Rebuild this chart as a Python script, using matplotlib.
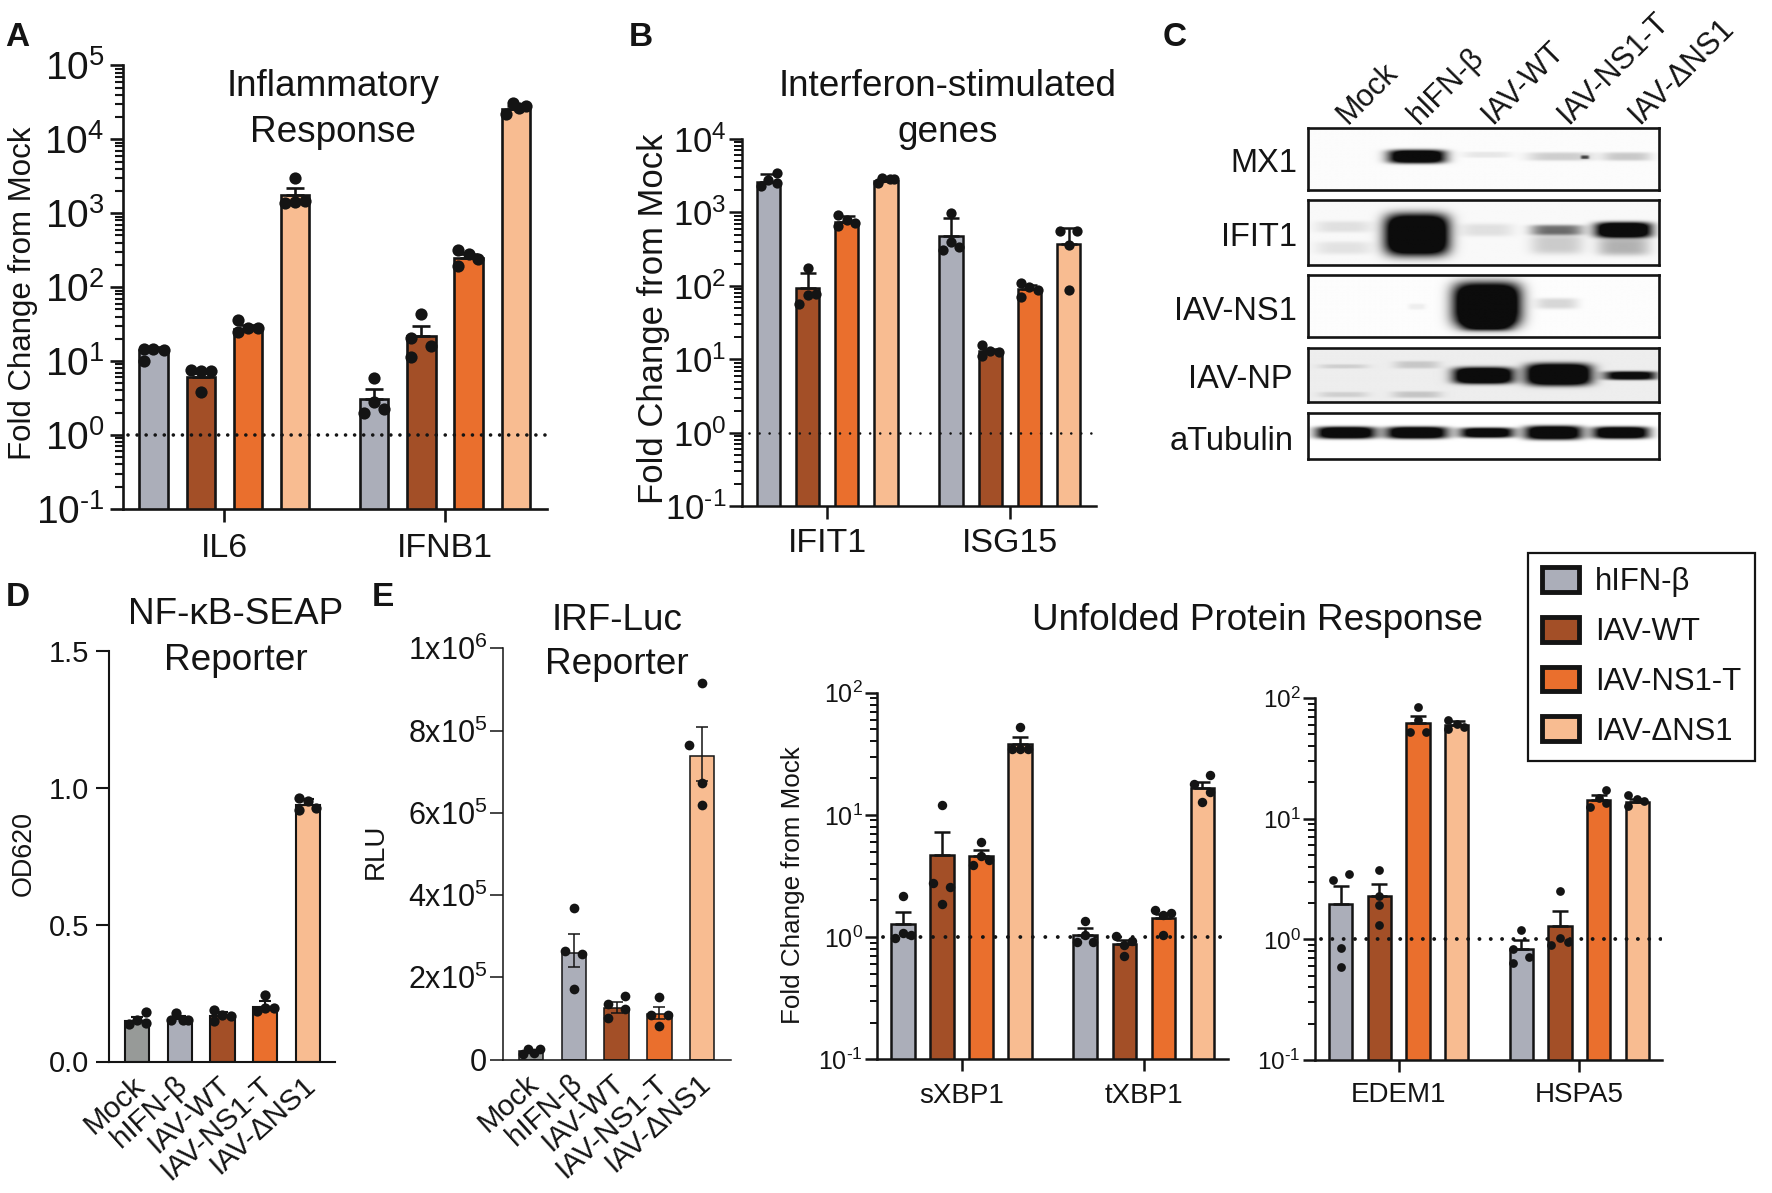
import matplotlib
matplotlib.use("Agg")
import matplotlib.pyplot as plt
import numpy as np
from matplotlib.patches import Patch
from matplotlib.ticker import LogLocator, NullFormatter
from matplotlib.transforms import ScaledTranslation

plt.rcParams["font.family"] = ["Liberation Sans", "DejaVu Sans"]
plt.rcParams["mathtext.fontset"] = "custom"
plt.rcParams["mathtext.rm"] = "Liberation Sans"
plt.rcParams["mathtext.default"] = "regular"

W, H = 1772, 1193
INK = "#141414"

GRAY = "#abaeb9"
BROWN = "#a34f27"
ORANGE = "#ea6f2d"
PEACH = "#f8bc91"
MOCK = "#979a98"
FOUR = [GRAY, BROWN, ORANGE, PEACH]
FIVE = [MOCK, GRAY, BROWN, ORANGE, PEACH]

legend_names = ["hIFN-β", "IAV-WT", "IAV-NS1-T", "IAV-ΔNS1"]
lane_names = ["Mock", "hIFN-β", "IAV-WT", "IAV-NS1-T", "IAV-ΔNS1"]

# A
a_groups = ["IL6", "IFNB1"]
a_means = [13.9, 6.1, 27.3, 1760, 3.07, 21.8, 248, 25900]
a_tops = [15.5, 7.0, 31, 2210, 4.2, 30, 280, 28500]
a_points = [
    [14.6, 14.6, 14.2, 10.1], [7.6, 7.3, 7.3, 3.76], [36, 25, 28, 28], [3000, 1360, 1440, 1470],
    [5.9, 2.83, 1.97, 2.26], [43, 20.6, 15.9, 11.3], [315, 279, 243, 194], [31300, 22300, 26400, 28000],
]
a_offsets = [
    [-.21, 0, .23, -.21], [-.21, 0, .22, 0], [-.21, -.21, 0, .22], [0, -.21, 0, .21],
    [0, 0, -.22, .22], [0, -.22, .21, -.22], [-.22, 0, .2, -.22], [-.07, -.21, .07, .22],
]

# B
b_groups = ["IFIT1", "ISG15"]
b_means = [2600, 93, 747, 2700, 484, 13.1, 91, 377]
b_tops = [3280, 152, 900, 2800, 837, 14, 103, 615]
b_points = [
    [2280, 2770, 3470, 2530], [176, 75, 77, 56], [917, 652, 791, 722], [2530, 2930, 2830, 2860],
    [993, 399, 311, 337], [15.6, 11, 13.1, 12.8], [110, 71, 96, 88], [550, 550, 365, 89],
]
b_offsets = [
    [-.2, 0, .21, .21], [0, 0, .21, -.21], [-.21, -.21, 0, .2], [-.21, -.09, .1, .21],
    [0, 0, -.21, .21], [-.21, -.21, 0, .21], [-.21, -.21, 0, .21], [-.21, .21, 0, 0],
]

# D
d_means = [0.148, 0.155, 0.165, 0.2, 0.94]
d_tops = [0.163, 0.165, 0.18, 0.22, 0.96]
d_points = [
    [.137, .151, .18, .14], [.151, .177, .153, .153], [.189, .148, .17, .167],
    [.243, .185, .195, .195], [.962, .919, .951, .929],
]
d_offsets = [
    [-.2, 0, .2, .2], [-.2, -.08, .08, .2], [-.2, -.2, 0, .2], [0, -.2, 0, .2], [-.2, -.2, 0, .2],
]

# E
e_means = [20000, 260000, 126000, 110000, 739000]
e_tops = [24000, 306000, 140000, 127500, 808000]
e_bottoms = [16000, 224000, 112000, 98500, 678000]
e_points = [
    [13500, 26000, 26000, 15500], [369000, 265000, 256000, 172000], [135000, 154000, 122000, 100000],
    [151000, 108000, 108000, 81000], [915000, 764000, 672000, 620000],
]
e_offsets = [
    [-.2, -.07, .2, .07], [0, -.2, .2, 0], [-.2, .2, .2, -.2], [0, -.2, .2, 0], [0, -.3, 0, 0],
]

# Unfolded protein response, left
x_groups = ["sXBP1", "tXBP1"]
x_means = [1.29, 4.69, 4.6, 37.9, 1.05, 0.871, 1.42, 16.5]
x_tops = [1.59, 7.27, 5.15, 43.5, 1.18, 0.95, 1.55, 18.7]
x_points = [
    [2.15, .975, 1.09, 1.04], [12, 2.75, 2.55, 1.86], [5.95, 3.88, 4.6, 4.27], [52.6, 34.3, 34.3, 34.5],
    [1.36, .904, 1.05, .904], [1.03, .86, .927, .703], [1.66, 1.53, 1.58, 1.05], [21.1, 17.9, 15.3, 12.8],
]
x_offsets = [
    [0, -.2, 0, .2], [0, -.22, .2, 0], [0, -.21, 0, .2], [0, -.21, 0, .21],
    [0, -.21, 0, .21], [-.2, 0, .2, 0], [-.2, 0, .21, 0], [.21, -.2, .21, 0],
]

# Unfolded protein response, right
u_groups = ["EDEM1", "HSPA5"]
u_means = [1.95, 2.27, 62.5, 60, 0.824, 1.3, 14.2, 13.8]
u_tops = [2.75, 2.85, 71.6, 64, 0.986, 1.73, 15.6, 14.6]
u_points = [
    [3.46, 3.11, .84, .587], [3.77, 2.28, 1.92, 1.31], [84, 52, 65.8, 52], [65.8, 55, 61.2, 57.4],
    [1.19, .83, .713, .641], [2.51, 1.02, .904, .957], [17.3, 14.9, 12.6, 13.4], [15.7, 14.6, 12.7, 14.1],
]
u_offsets = [
    [.22, -.21, 0, 0], [0, 0, 0, 0], [0, -.22, 0, .2], [-.22, -.22, 0, .2],
    [0, -.21, .21, -.21], [0, 0, -.22, .21], [.2, 0, -.21, .2], [-.23, 0, -.23, .18],
]

# C: bands as (lane x, y, half width, half height, strength), fractions of the box
blot_names = ["MX1", "IFIT1", "IAV-NS1", "IAV-NP", "aTubulin"]
blot_backgrounds = [0.015, 0.025, 0.01, 0.07, 0.0]
mx1_bands = [(.31, .46, .082, .11, 1.4), (.51, .43, .07, .05, .08), (.72, .46, .095, .07, .18),
             (.79, .47, .012, .03, .6), (.91, .46, .07, .07, .2)]
ifit1_bands = [(.31, .535, .09, .32, 1.7), (.10, .41, .08, .09, .1), (.10, .74, .08, .1, .09),
               (.51, .46, .075, .1, .1), (.71, .46, .075, .08, .55), (.71, .68, .075, .16, .18),
               (.90, .46, .08, .12, 1.5), (.90, .72, .075, .14, .28)]
ns1_bands = [(.51, .48, .095, .36, 1.7), (.51, .81, .07, .1, .6), (.71, .46, .06, .09, .15),
             (.31, .51, .025, .05, .06)]
np_bands = [(.50, .52, .085, .15, 1.5), (.715, .50, .092, .2, 1.6), (.92, .52, .075, .08, 1.1),
            (.10, .35, .07, .04, .12), (.31, .32, .065, .07, .15), (.10, .87, .07, .05, .12),
            (.31, .87, .07, .06, .16)]
tubulin_bands = [(.107, .44, .085, .13, 1.4), (.31, .44, .088, .13, 1.4), (.51, .44, .077, .11, 1.3),
                 (.70, .44, .082, .15, 1.4), (.893, .44, .08, .13, 1.4)]
blot_bands = [mx1_bands, ifit1_bands, ns1_bands, np_bands, tubulin_bands]


def px_axes(fig, x0, y0, x1, y1):
    """Axes from pixel box, y measured from the top of the picture."""
    return fig.add_axes([x0 / W, 1 - y1 / H, (x1 - x0) / W, (y1 - y0) / H])


def px_text(fig, x, y, s, **kw):
    kw.setdefault("ha", "center")
    kw.setdefault("va", "center")
    return fig.text(x / W, 1 - y / H, s, **kw)


def draw_bars(ax, xs, colors, means, tops, points, offsets, width, lw, ms, cap, bottoms=None):
    ax.bar(xs, means, width=width, color=colors, edgecolor=INK, linewidth=lw, zorder=2)
    means = np.array(means)
    upper = np.array(tops) - means
    lower = means - np.array(bottoms) if bottoms is not None else np.zeros(len(means))
    ax.errorbar(xs, means, yerr=[lower, upper], fmt="none", ecolor=INK, elinewidth=lw,
                capsize=cap, capthick=lw, zorder=3)
    for x, vals, offs in zip(xs, points, offsets):
        ax.plot(x + np.array(offs), vals, "o", color=INK, ms=ms, mew=0, zorder=5, clip_on=False)


def style_spines(ax, lw):
    ax.spines[["top", "right"]].set_visible(False)
    ax.spines[["left", "bottom"]].set_linewidth(lw)
    ax.spines[["left", "bottom"]].set_color(INK)


def log_panel(ax, groups, means, tops, points, offsets, exps, xlim, lw, ms, cap, tick_fs, group_fs,
              major, minor, line_lw, line_start, line_gap, label_y, pad):
    xs = [0, 1, 2, 3, 4.67, 5.67, 6.67, 7.67]
    colors = FOUR + FOUR
    ax.set_yscale("log")
    draw_bars(ax, xs, colors, means, tops, points, offsets, 0.6, lw, ms, cap)
    ax.plot([line_start, xlim[1]], [1, 1], color=INK, lw=line_lw, dash_capstyle="round",
            linestyle=(0, (0.01, line_gap)), zorder=4)
    ax.set_xlim(*xlim)
    ax.set_ylim(10.0 ** exps[0], 10.0 ** exps[-1])
    ax.set_yticks([10.0 ** e for e in exps])
    ax.set_yticklabels([rf"$10^{{{e}}}$" if e >= 0 else rf"$10^{{\text{{-}}{-e}}}$" for e in exps],
                       fontsize=tick_fs, color=INK)
    ax.yaxis.set_minor_locator(LogLocator(base=10, subs=range(2, 10), numticks=20))
    ax.yaxis.set_minor_formatter(NullFormatter())
    ax.tick_params(axis="y", which="major", length=major, width=lw, color=INK, pad=pad)
    ax.tick_params(axis="y", which="minor", length=minor, width=lw * 0.8, color=INK)
    ax.set_xticks([np.mean(xs[:4]), np.mean(xs[4:])])
    ax.set_xticklabels([])
    ax.tick_params(axis="x", length=major, width=lw, color=INK)
    style_spines(ax, lw)
    trans = ax.get_xaxis_transform()
    for gx, name in zip(ax.get_xticks(), groups):
        ax.text(gx, label_y, name, transform=trans, ha="center", va="center",
                fontsize=group_fs, color=INK)


def linear_panel(fig, ax, means, tops, points, offsets, ylim, ticks, ticklabels, xlim, lw, ms, cap, tick_fs,
                 pad, bottoms=None):
    xs = np.arange(len(means))
    draw_bars(ax, xs, FIVE, means, tops, points, offsets, 0.57, lw, ms, cap, bottoms)
    ax.set_xlim(*xlim)
    ax.set_ylim(*ylim)
    ax.set_yticks(ticks)
    ax.set_yticklabels(ticklabels, fontsize=tick_fs, color=INK)
    ax.tick_params(axis="y", length=9.5, width=lw, color=INK, pad=pad)
    ax.set_xticks(xs)
    ax.set_xticklabels(lane_names, rotation=42, ha="right", va="top", rotation_mode="anchor",
                       fontsize=21.3, color=INK)
    ax.tick_params(axis="x", length=0, pad=7)
    shift = ScaledTranslation(-4 / 72, 0, fig.dpi_scale_trans)
    for lab in ax.get_xticklabels():
        lab.set_transform(lab.get_transform() + shift)
    style_spines(ax, lw)


def draw_blot(ax, bands, background):
    xx, yy = np.meshgrid(np.linspace(0, 1, 350), np.linspace(0, 1, 70))
    dark = np.full(xx.shape, background)
    for bx, by, hw, hh, strength in bands:
        dark += strength * np.exp(-((xx - bx) / hw) ** 4 - ((yy - by) / hh) ** 4)
    ax.imshow(1 - np.clip(dark, 0, 0.95), cmap="gray", vmin=0, vmax=1, aspect="auto",
              extent=[0, 1, 1, 0], interpolation="bilinear")
    ax.set_xticks([])
    ax.set_yticks([])
    for sp in ax.spines.values():
        sp.set_linewidth(1.9)
        sp.set_color(INK)


fig = plt.figure(figsize=(W / 100, H / 100), dpi=100, facecolor="white")

# A
ax = px_axes(fig, 122.5, 65.4, 547, 508.9)
log_panel(ax, a_groups, a_means, a_tops, a_points, a_offsets, [-1, 0, 1, 2, 3, 4, 5],
          (-0.656, 8.33), 1.9, 8.8, 6.8, 28, 24.5, 9.6, 5.5, 2.6, -0.53, 2.5, -0.09, 3.5)
# B
ax = px_axes(fig, 742.4, 138.9, 1095.6, 506.4)
log_panel(ax, b_groups, b_means, b_tops, b_points, b_offsets, [-1, 0, 1, 2, 3, 4],
          (-0.665, 8.36), 1.8, 7.4, 6.0, 25, 24.5, 9.6, 5.5, 1.9, -0.5, 3.8, -0.102, 2)
# sXBP1 / tXBP1
ax = px_axes(fig, 877.3, 692.7, 1228, 1059.3)
log_panel(ax, x_groups, x_means, x_tops, x_points, x_offsets, [-1, 0, 1, 2],
          (-0.658, 8.33), 1.8, 6.8, 6.0, 18, 20, 8.5, 5, 2.8, -0.5, 3.2, -0.1, 2)
# EDEM1 / HSPA5
ax = px_axes(fig, 1315.3, 698, 1662, 1060)
log_panel(ax, u_groups, u_means, u_tops, u_points, u_offsets, [-1, 0, 1, 2],
          (-0.658, 8.31), 1.8, 6.3, 5.6, 17.5, 20, 8.5, 5, 2.8, -0.5, 2.9, -0.096, 2)

# D
ax = px_axes(fig, 109, 651.4, 335.4, 1061.5)
linear_panel(fig, ax, d_means, d_tops, d_points, d_offsets, (0, 1.5), [0, 0.5, 1.0, 1.5],
             ["0.0", "0.5", "1.0", "1.5"], (-0.66, 4.65), 1.5, 7.4, 4.5, 21, 5)
# E
ax = px_axes(fig, 503, 648.3, 730.5, 1059.5)
linear_panel(fig, ax, e_means, e_tops, e_points, e_offsets, (0, 1e6),
             [0, 2e5, 4e5, 6e5, 8e5, 1e6],
             ["0", r"$2x10^{5}$", r"$4x10^{5}$", r"$6x10^{5}$", r"$8x10^{5}$", r"$1x10^{6}$"],
             (-0.657, 4.66), 1.1, 7.0, 4.5, 22, 2, bottoms=e_bottoms)

# C
blot_boxes = [(128.3, 190), (200.3, 265), (275.3, 336.7), (347.7, 402), (412.7, 459.3)]
blot_label_y = [164, 238, 311, 379, 442]
blot_label_x = [1297, 1297, 1297, 1293, 1294]
for (y0, y1), bands, bg, name, ly, lx in zip(blot_boxes, blot_bands, blot_backgrounds, blot_names,
                                             blot_label_y, blot_label_x):
    ax = px_axes(fig, 1308, y0, 1658.7, y1)
    draw_blot(ax, bands, bg)
    px_text(fig, lx, ly, name, ha="right", fontsize=23.5, color=INK)
for x, name in zip([1347, 1419, 1492, 1568, 1639], lane_names):
    px_text(fig, x, 125, name, ha="left", va="baseline", rotation=45, rotation_mode="anchor",
            fontsize=22, color=INK)

# Axis titles
px_text(fig, 23.5, 293, "Fold Change from Mock", rotation=90, fontsize=22.5, color=INK)
px_text(fig, 653, 319, "Fold Change from Mock", rotation=90, fontsize=24.9, color=INK)
px_text(fig, 793, 885, "Fold Change from Mock", rotation=90, fontsize=18.7, color=INK)
px_text(fig, 23.5, 853, "OD620", rotation=90, fontsize=19.4, color=INK)
px_text(fig, 375.5, 851, "RLU", rotation=90, fontsize=20, color=INK)

# Panel titles
for x, y, s in [(333, 86, "Inflammatory"), (333, 132, "Response"),
                (948, 86, "Interferon-stimulated"), (948, 132, "genes"),
                (236, 614, "NF-κB-SEAP"), (236, 660, "Reporter"),
                (617, 621, "IRF-Luc"), (617, 665, "Reporter"),
                (1258, 620, "Unfolded Protein Response")]:
    px_text(fig, x, y, s, fontsize=26.6, color=INK)

# Panel letters
for x, y, s in [(17, 38, "A"), (641, 38, "B"), (1175, 37, "C"), (18, 598, "D"), (383, 597, "E")]:
    px_text(fig, x, y, s, fontsize=24, fontweight="bold", color=INK)

handles = [Patch(facecolor=c, edgecolor=INK, linewidth=3.5) for c in FOUR]
fig.legend(handles, legend_names, loc="upper left", bbox_to_anchor=(1528 / W, 1 - 553 / H),
           fontsize=22.4, frameon=True, fancybox=False, edgecolor=INK, framealpha=1,
           handlelength=1.2, handleheight=0.85, handletextpad=0.5, labelspacing=0.63,
           borderpad=0.45, borderaxespad=0, labelcolor=INK).get_frame().set_linewidth(1.6)

fig.savefig("out.png", dpi=100)
plt.close(fig)
print("Saved figure -> out.png")
